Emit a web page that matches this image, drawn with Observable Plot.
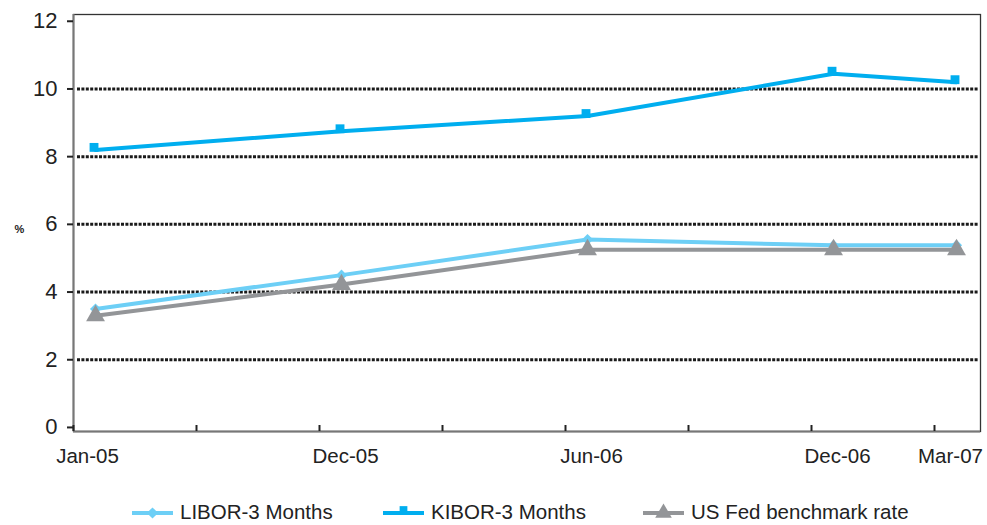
<!DOCTYPE html>
<html>
<head>
<meta charset="utf-8">
<script src="https://cdn.jsdelivr.net/npm/d3@7"></script>
<script src="https://cdn.jsdelivr.net/npm/@observablehq/plot@0.6"></script>
<style>
  html, body { margin: 0; padding: 0; background: #fff; }
  #chart { width: 987px; }
  #legend { position: relative; width: 987px; height: 40px; font-family: "Liberation Sans", Arial, sans-serif; font-size: 20.5px; color: #222; }
  .item { position: absolute; top: 15px; display: flex; align-items: center; }
  .item span { margin-left: 7px; line-height: 24px; }
  .item svg { display: block; }
</style>
</head>
<body>
<div id="chart"></div>
<div id="legend"></div>
<script>
// Categories (date labels) and their slot on the category axis
const dates = ["Jan-05", "Dec-05", "Jun-06", "Dec-06", "Mar-07"];
const slots = [0, 2, 4, 6, 7];

// Series values (%)
const libor = [3.5, 4.5, 5.55, 5.38, 5.38];
const kibor = [8.2, 8.75, 9.2, 10.45, 10.2];
const fed   = [3.3, 4.22, 5.25, 5.25, 5.25];

const seriesNames = ["LIBOR-3 Months", "KIBOR-3 Months", "US Fed benchmark rate"];
const colors = ["#6DCFF6", "#00AEEF", "#939598"];
const symbols = ["diamond2", "square", "triangle"];

// Axis ticks
const yTicks = [0, 2, 4, 6, 8, 10, 12];
const gridValues = [2, 4, 6, 8, 10];

const toRows = (vals, name) => vals.map((v, i) => ({ slot: slots[i], date: dates[i], value: v, series: name }));
const rowsLibor = toRows(libor, seriesNames[0]);
const rowsKibor = toRows(kibor, seriesNames[1]);
const rowsFed   = toRows(fed, seriesNames[2]);

const xMin = -0.179, xMax = 7.195;
const yMin = -0.12, yMax = 12.2;
const xTickPositions = d3.range(8).map(k => xMin + k);

const W = 987, H = 485, mT = 14, mB = 54, mL = 73, mR = 7;
const plotH = H - mT - mB;

const labelFmt = d => dates[slots.indexOf(d)];
const xLabelCommon = { tickSize: 0, tickPadding: 17, tickFormat: labelFmt, fontSize: 20.5, label: null, color: "#222" };

const chart = Plot.plot({
  width: W, height: H,
  marginTop: mT, marginBottom: mB, marginLeft: mL, marginRight: mR,
  style: { fontFamily: "'Liberation Sans', Arial, sans-serif", fontSize: "20px", background: "#fff", overflow: "visible" },
  x: { type: "linear", domain: [xMin, xMax] },
  y: { type: "linear", domain: [yMin, yMax] },
  marks: [
    // dotted gridlines
    Plot.ruleY(gridValues, { stroke: "#1a1a1a", strokeWidth: 3, strokeDasharray: "3,1.4", insetLeft: 4, insetRight: 2 }),
    // frame: top and right
    Plot.frame({ stroke: "#333", strokeWidth: 1.3 }),
    // left axis line and bottom axis line (gray)
    Plot.ruleX([xMin], { stroke: "#777", strokeWidth: 2 }),
    Plot.ruleY([yMin], { stroke: "#777", strokeWidth: 2 }),
    // x tick marks pointing up into the plot
    Plot.ruleX(xTickPositions, { stroke: "#222", strokeWidth: 2, insetTop: plotH - 6 }),
    // y axis
    Plot.axisY({ ticks: yTicks, tickSize: 6, tickPadding: 10, tickFormat: d => String(d), fontSize: 22, stroke: "#222", strokeWidth: 2, label: null, color: "#222" }),
    // x axis labels at data slots
    Plot.axisX({ ...xLabelCommon, ticks: slots.slice(0, 1), dx: -8 }),
    Plot.axisX({ ...xLabelCommon, ticks: slots.slice(1, 4), dx: 4 }),
    Plot.axisX({ ...xLabelCommon, ticks: slots.slice(4), dx: -6 }),
    // % label
    Plot.text(["%"], { x: xMin, y: 5.85, dx: -54, text: d => d, fontSize: 11, fontWeight: "bold", fill: "#222", textAnchor: "middle" }),
    // lines
    Plot.line(rowsLibor, { x: "slot", y: "value", stroke: colors[0], strokeWidth: 4 }),
    Plot.line(rowsKibor, { x: "slot", y: "value", stroke: colors[1], strokeWidth: 4 }),
    Plot.line(rowsFed,   { x: "slot", y: "value", stroke: colors[2], strokeWidth: 4 }),
    // markers
    Plot.dot(rowsLibor, { x: "slot", y: "value", symbol: symbols[0], r: 5, fill: colors[0], stroke: "none" }),
    Plot.dot(rowsKibor, { x: "slot", y: "value", symbol: symbols[1], r: 5, fill: colors[1], stroke: "none", dx: -1.5, dy: -2.5 }),
    Plot.dot(rowsFed,   { x: "slot", y: "value", symbol: symbols[2], r: 7, fill: colors[2], stroke: "none" })
  ]
});
document.getElementById("chart").appendChild(chart);

// Legend
const legend = document.getElementById("legend");
const legendLefts = [132, 383, 643];
seriesNames.forEach((name, i) => {
  const item = document.createElement("div");
  item.className = "item";
  item.style.left = legendLefts[i] + "px";
  const svg = d3.create("svg").attr("width", 41).attr("height", 22);
  svg.append("line").attr("x1", 0).attr("x2", 41).attr("y1", 12).attr("y2", 12)
    .attr("stroke", colors[i]).attr("stroke-width", 4);
  const symType = [d3.symbolDiamond2, d3.symbolSquare, d3.symbolTriangle][i];
  const size = [80, 60, 120][i];
  const dy = [12, 9, 12][i];
  svg.append("path").attr("d", d3.symbol(symType, size)()).attr("transform", `translate(20.5,${dy})`)
    .attr("fill", colors[i]);
  item.appendChild(svg.node());
  const span = document.createElement("span");
  span.textContent = name;
  item.appendChild(span);
  legend.appendChild(item);
});
</script>
</body>
</html>
